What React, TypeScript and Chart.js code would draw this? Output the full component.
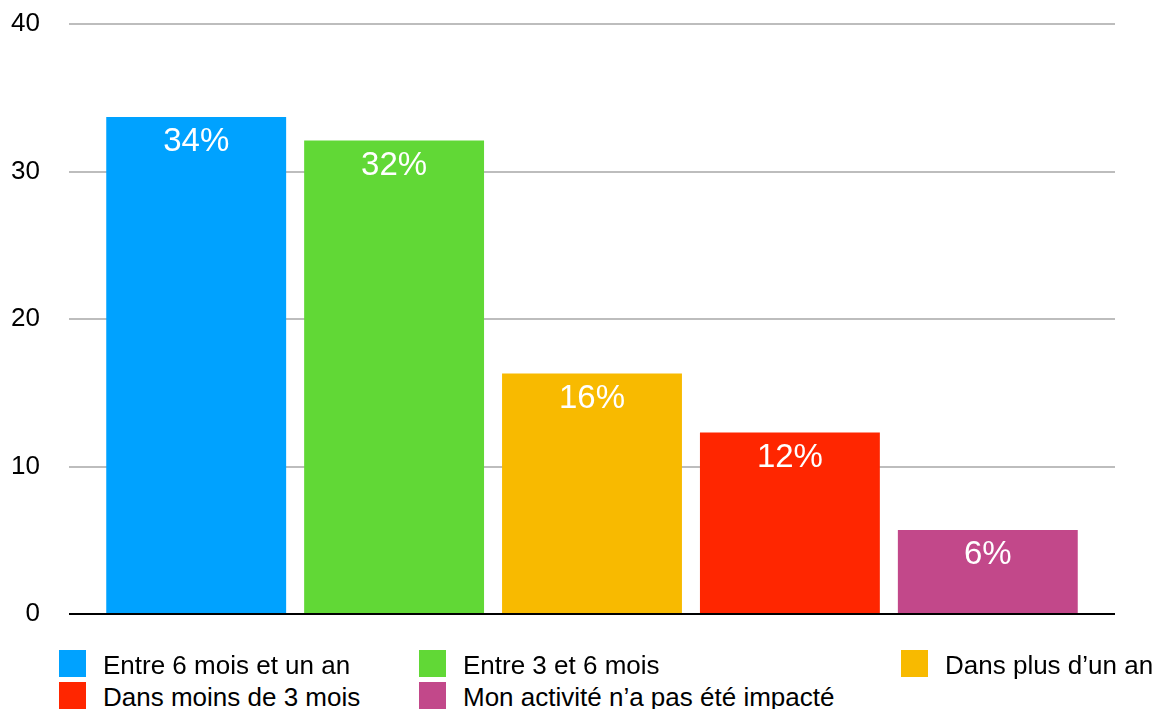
import React, { useEffect, useRef } from "react";
import { Chart, registerables } from "chart.js";

Chart.register(...registerables);

const seriesNames = [
  "Entre 6 mois et un an",
  "Entre 3 et 6 mois",
  "Dans plus d’un an",
  "Dans moins de 3 mois",
  "Mon activité n’a pas été impacté",
];
const seriesValues = [33.7, 32.1, 16.3, 12.3, 5.7];
const seriesLabels = ["34%", "32%", "16%", "12%", "6%"];
const seriesColors = ["#00A2FF", "#61D836", "#F8BA00", "#FF2600", "#C2488A"];
const yTicks = [0, 10, 20, 30, 40];

const FONT = "'Liberation Sans', Arial, Helvetica, sans-serif";

const legendPos = [
  { x: 59, y: 650 },
  { x: 419, y: 650 },
  { x: 901, y: 650 },
  { x: 59, y: 682 },
  { x: 419, y: 682 },
];

const labelPlugin = {
  id: "barLabels",
  afterDatasetsDraw(chart: any) {
    const ctx = chart.ctx;
    ctx.save();
    ctx.fillStyle = "#ffffff";
    ctx.font = `33px ${FONT}`;
    ctx.textAlign = "center";
    ctx.textBaseline = "middle";
    chart.data.datasets.forEach((ds: any, i: number) => {
      const meta = chart.getDatasetMeta(i);
      const el = meta.data[0];
      if (!el) return;
      ctx.fillText(seriesLabels[i], el.x, el.y + 25);
    });
    ctx.restore();
  },
};

export default function App() {
  const ref = useRef<HTMLCanvasElement | null>(null);
  useEffect(() => {
    if (!ref.current) return;
    const chart = new Chart(ref.current, {
      type: "bar",
      data: {
        labels: [""],
        datasets: seriesNames.map((name, i) => ({
          label: name,
          data: [seriesValues[i]],
          backgroundColor: seriesColors[i],
          borderWidth: 0,
          categoryPercentage: 0.946,
          barPercentage: 0.909,
        })),
      },
      options: {
        animation: false,
        responsive: false,
        maintainAspectRatio: false,
        layout: { padding: { top: 24, right: 48, left: 0, bottom: 46 } },
        plugins: {
          legend: { display: false },
          tooltip: { enabled: false },
        },
        scales: {
          x: { display: false },
          y: {
            min: 0,
            max: 40,
            afterBuildTicks: (scale: any) => {
              scale.ticks = yTicks.map((v) => ({ value: v }));
            },
            afterFit: (scale: any) => {
              scale.width = 69;
              scale.paddingTop = 0;
              scale.paddingBottom = 0;
            },
            border: { display: false },
            grid: {
              drawTicks: false,
              lineWidth: 2,
              color: (c: any) => (c.tick && c.tick.value === 0 ? "#000000" : "#bdbdbd"),
            },
            ticks: {
              padding: 29,
              color: "#000000",
              font: { family: FONT, size: 26 },
            },
          },
        },
      },
      plugins: [labelPlugin],
    });
    return () => chart.destroy();
  }, []);

  return (
    <div
      style={{
        position: "fixed",
        left: 0,
        top: 0,
        width: 1163,
        height: 709,
        background: "#ffffff",
        fontFamily: FONT,
        overflow: "hidden",
      }}
    >
      <canvas ref={ref} width={1163} height={660} style={{ display: "block" }} />
      {seriesNames.map((name, i) => (
        <React.Fragment key={name}>
          <div
            style={{
              position: "absolute",
              left: legendPos[i].x,
              top: legendPos[i].y,
              width: 27,
              height: 27,
              background: seriesColors[i],
            }}
          />
          <div
            style={{
              position: "absolute",
              left: legendPos[i].x + 44,
              top: legendPos[i].y + 2,
              fontSize: 26,
              lineHeight: "27px",
              color: "#000",
              whiteSpace: "nowrap",
            }}
          >
            {name}
          </div>
        </React.Fragment>
      ))}
    </div>
  );
}
